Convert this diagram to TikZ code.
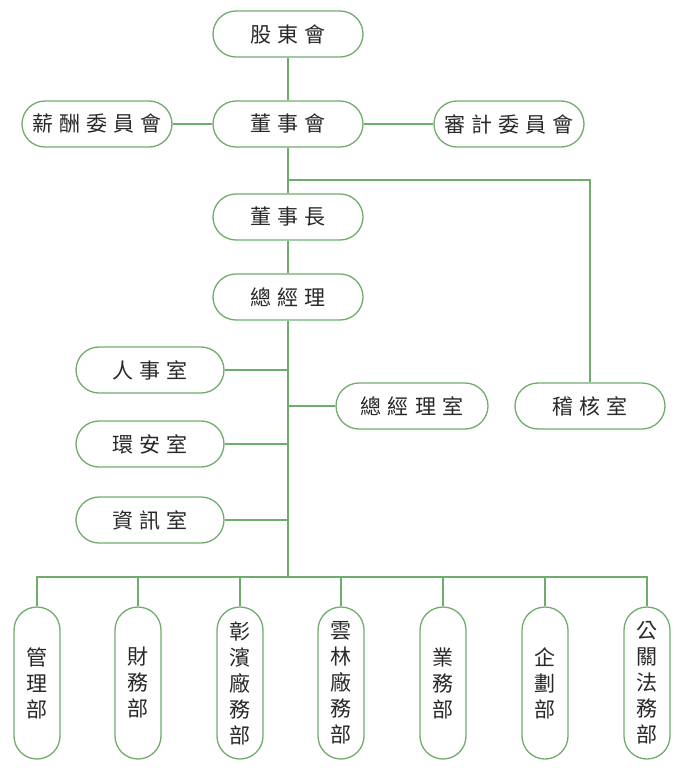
\documentclass[tikz,border=0pt]{standalone}
\usepackage{fontspec}
\newfontfamily\cjk{Noto Sans CJK TC}
\definecolor{grn}{RGB}{112,172,108}
\definecolor{txt}{RGB}{40,40,40}
\newcommand\gp{\hspace{0.29em}}
\begin{document}
\begin{tikzpicture}[x=1pt,y=-1pt,
  conn/.style={draw=grn,line width=1.3pt},
  hbox/.style={draw=grn,line width=1.3pt,fill=white,rounded corners=23pt,
    minimum width=150pt,minimum height=46pt,inner sep=0pt,text=txt,
    font=\cjk\fontsize{21}{21}\selectfont},
  vbox/.style={draw=grn,line width=1.3pt,fill=white,rounded corners=23pt,
    minimum width=46pt,minimum height=152pt,inner sep=0pt,text=txt,align=center,
    font=\cjk\fontsize{21}{26}\selectfont}]
\useasboundingbox (0,0) rectangle (685,768);
\node[hbox] (gd) at (288,34) {股\gp 東\gp 會};
\node[hbox] (dsh) at (288,124) {董\gp 事\gp 會};
\node[hbox] (xc) at (97,124) {薪\gp 酬\gp 委\gp 員\gp 會};
\node[hbox] (sj) at (509,124) {審\gp 計\gp 委\gp 員\gp 會};
\node[hbox] (dsz) at (288,217) {董\gp 事\gp 長};
\node[hbox] (zjl) at (288,297) {總\gp 經\gp 理};
\node[hbox,minimum width=148pt] (rs) at (150,370) {人\gp 事\gp 室};
\node[hbox,minimum width=148pt] (ha) at (150,444) {環\gp 安\gp 室};
\node[hbox,minimum width=148pt] (zx) at (150,520) {資\gp 訊\gp 室};
\node[hbox,minimum width=152pt] (zjls) at (412,406) {總\gp 經\gp 理\gp 室};
\node[hbox] (jh) at (590,406) {稽\gp 核\gp 室};
\node[vbox] (b1) at (37,683) {管\\理\\部};
\node[vbox] (b2) at (138,683) {財\\務\\部};
\node[vbox] (b3) at (240,683) {彰\\濱\\廠\\務\\部};
\node[vbox] (b4) at (341,683) {雲\\林\\廠\\務\\部};
\node[vbox] (b5) at (443,683) {業\\務\\部};
\node[vbox] (b6) at (545,683) {企\\劃\\部};
\node[vbox] (b7) at (647,683) {公\\關\\法\\務\\部};
\coordinate (j1) at (288,180);
\coordinate (bus) at (288,577);
\path[conn] (gd) -- (dsh);
\path[conn] (xc) -- (dsh);
\path[conn] (dsh) -- (sj);
\path[conn] (dsh) -- (dsz);
\path[conn] (j1) -| (jh.north);
\path[conn] (dsz) -- (zjl);
\path[conn] (zjl.south) -- (bus);
\path[conn] (rs.east) -- (rs.east -| bus);
\path[conn] (ha.east) -- (ha.east -| bus);
\path[conn] (zx.east) -- (zx.east -| bus);
\path[conn] (zjls.west) -- (zjls.west -| bus);
\foreach \b in {b1,b2,b3,b4,b5,b6,b7} {\path[conn] (bus) -| (\b.north);}
\end{tikzpicture}
\end{document}
